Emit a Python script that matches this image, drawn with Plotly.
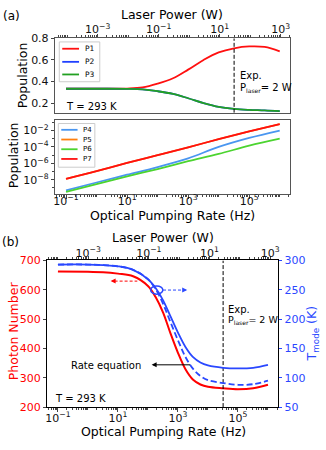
import plotly.graph_objects as go

W, H = 326, 450


def px(x):
    return x / W


def py(y):
    return 1 - y / H


# (a) upper panel: populations of the three lowest levels vs pumping rate
rate_a = [0.1, 1, 10, 32, 100, 320, 1000, 3200, 1e4, 3.2e4, 1e5, 3.2e5, 1e6]
p1 = [0.333, 0.333, 0.335, 0.345, 0.38, 0.43, 0.51, 0.60, 0.67, 0.708, 0.725, 0.72, 0.68]
p2 = [0.333, 0.333, 0.332, 0.327, 0.31, 0.285, 0.245, 0.20, 0.165, 0.146, 0.137, 0.132, 0.125]
p3 = [0.333, 0.333, 0.332, 0.327, 0.31, 0.285, 0.245, 0.20, 0.165, 0.146, 0.137, 0.132, 0.125]

# laser power scale shown on the top axes (W)
power_top = [1e-4, 1e3]
power_ticks = [1e-3, 1e-1, 1e1, 1e3]
power_labels = ['10<sup>−3</sup>', '10<sup>−1</sup>', '10<sup>1</sup>', '10<sup>3</sup>']
rate_ticks = [1e-1, 1e1, 1e3, 1e5]
rate_labels = ['10<sup>−1</sup>', '10<sup>1</sup>', '10<sup>3</sup>', '10<sup>5</sup>']
pop_ticks = [1e-8, 1e-6, 1e-4, 1e-2]
pop_labels = ['10<sup>−8</sup>', '10<sup>−6</sup>', '10<sup>−4</sup>', '10<sup>−2</sup>']

# (a) lower panel: higher levels (log-log)
rate_a2 = [0.1, 1, 10, 100, 1000, 1e4, 1e5, 1e6]
p4 = [5.0e-10, 4.5e-9, 4.0e-8, 3.5e-7, 4.0e-6, 1.0e-4, 1.26e-3, 1.0e-2]
p5 = [1.26e-8, 1.1e-7, 1.1e-6, 1.0e-5, 8.9e-5, 8.9e-4, 7.9e-3, 6.3e-2]
p6 = [3.2e-10, 2.8e-9, 2.5e-8, 2.0e-7, 1.8e-6, 1.4e-5, 1.4e-4, 1.0e-3]
p7 = [1.26e-8, 1.1e-7, 1.1e-6, 1.0e-5, 8.9e-5, 8.9e-4, 7.9e-3, 6.3e-2]

# (b) photon number and mode temperature
rate_b = [0.1, 1, 3.2, 10, 32, 100, 180, 320, 560, 1000, 1800, 3200, 5600,
          1e4, 3.2e4, 1e5, 3.2e5, 1e6]
photon = [662, 661, 660, 655, 646, 613, 575, 522, 452, 385, 328, 293, 277,
          269, 264, 261, 264, 276]
t_mode = [293, 293, 292, 290, 284, 268, 253, 232, 205, 177, 152, 135, 126,
          121, 117, 116, 117, 122]
t_rate = [293, 293, 292, 290, 284, 268, 251, 226, 195, 164, 135, 115, 103,
          96, 91, 88, 89, 95]

exp_rate = 3.2e4

RED = '#ff1010'
GREEN_A = '#22a022'
BLUE_A = '#2040ff'
BLUE_L = '#4a96f0'
ORANGE = '#ff7f0e'
GREEN_L = '#4cd430'
BLUE_B = '#2a48ff'
GRAY = '#555555'

fig = go.Figure()

# upper (a)
fig.add_trace(go.Scatter(x=rate_a, y=p1, mode='lines', line=dict(color=RED, width=1.8, shape='spline'),
                         xaxis='x', yaxis='y'))
fig.add_trace(go.Scatter(x=rate_a, y=p2, mode='lines', line=dict(color=BLUE_A, width=1.8, shape='spline'),
                         xaxis='x', yaxis='y'))
fig.add_trace(go.Scatter(x=rate_a, y=p3, mode='lines', line=dict(color=GREEN_A, width=1.8, shape='spline'),
                         xaxis='x', yaxis='y'))
fig.add_trace(go.Scatter(x=[exp_rate, exp_rate], y=[0.11, 0.8], mode='lines',
                         line=dict(color='black', width=1, dash='4px,2px'), xaxis='x', yaxis='y'))
# invisible trace so the top (laser power) axis gets drawn
fig.add_trace(go.Scatter(x=power_top, y=[0.5, 0.5], mode='lines', opacity=0, hoverinfo='skip',
                         xaxis='x2', yaxis='y'))

# lower (a)
for vals, col in [(p4, BLUE_L), (p5, ORANGE), (p6, GREEN_L), (p7, RED)]:
    fig.add_trace(go.Scatter(x=rate_a2, y=vals, mode='lines',
                             line=dict(color=col, width=1.8, shape='spline'),
                             xaxis='x3', yaxis='y3'))

# (b)
fig.add_trace(go.Scatter(x=rate_b, y=photon, mode='lines', line=dict(color='red', width=2, shape='spline'),
                         xaxis='x4', yaxis='y4'))
fig.add_trace(go.Scatter(x=rate_b, y=t_rate, mode='lines',
                         line=dict(color=BLUE_B, width=1.8, dash='6px,3px', shape='spline'),
                         xaxis='x4', yaxis='y5'))
fig.add_trace(go.Scatter(x=rate_b, y=t_mode, mode='lines', line=dict(color=BLUE_B, width=1.8, shape='spline'),
                         xaxis='x4', yaxis='y5'))
fig.add_trace(go.Scatter(x=[exp_rate, exp_rate], y=[200, 700], mode='lines',
                         line=dict(color='black', width=1, dash='4px,2px'), xaxis='x4', yaxis='y4'))
fig.add_trace(go.Scatter(x=power_top, y=[400, 400], mode='lines', opacity=0, hoverinfo='skip',
                         xaxis='x5', yaxis='y4'))

tickf = dict(family='DejaVu Sans', size=11, color='#111')
common = dict(showgrid=False, zeroline=False, ticks='outside', ticklen=3.5, tickwidth=1,
              tickfont=tickf)
minor_log = dict(ticks='outside', ticklen=2, dtick='D1', tickcolor='#444')

dom_a = [px(54), px(292)]
dom_b = [px(46), px(279.3)]

fig.update_layout(
    width=W, height=H, margin=dict(l=0, r=0, t=0, b=0),
    paper_bgcolor='white', plot_bgcolor='white', showlegend=False,
    font=dict(family='DejaVu Sans', size=11, color='black'),
    xaxis=dict(domain=dom_a, type='log', range=[-1.35, 6.35], anchor='y',
               showticklabels=False, ticks='', showline=True, mirror=True,
               linecolor=GRAY, showgrid=False, zeroline=False),
    xaxis2=dict(type='log', range=[-4.39, 3.32], overlaying='x', side='top', anchor='y',
                tickvals=power_ticks, ticktext=power_labels, ticklabelstandoff=-4,
                minor=minor_log, linecolor=GRAY, **common),
    yaxis=dict(domain=[py(110), py(33.3)], range=[0.11, 0.8], anchor='x',
               tickvals=[0.2, 0.4, 0.6, 0.8], ticktext=['0.2', '0.4', '0.6', '0.8'],
               showline=True, mirror=True, linecolor=GRAY, **common),
    xaxis3=dict(domain=dom_a, type='log', range=[-1.35, 6.35], anchor='y3',
                tickvals=rate_ticks, ticktext=rate_labels, ticklabelstandoff=-7,
                minor=minor_log, showline=True, mirror=True, linecolor=GRAY, **common),
    yaxis3=dict(domain=[py(194), py(117.3)], type='log', range=[-9.8, -0.7], anchor='x3',
                tickvals=pop_ticks, ticktext=pop_labels,
                minor=dict(ticks='outside', ticklen=2, dtick=1),
                showline=True, mirror=True, linecolor=GRAY, **common),
    xaxis4=dict(domain=dom_b, type='log', range=[-1.35, 6.33], anchor='y4',
                tickvals=rate_ticks, ticktext=rate_labels, ticklabelstandoff=-3,
                minor=minor_log, showline=True, mirror=True, linecolor='black', **common),
    xaxis5=dict(type='log', range=[-4.34, 3.25], overlaying='x4', side='top', anchor='y4',
                tickvals=power_ticks, ticktext=power_labels, ticklabelstandoff=-5,
                minor=minor_log, linecolor='black', **common),
    yaxis4=dict(domain=[py(413), py(262)], range=[200, 700], anchor='x4', dtick=100,
                showline=True, linecolor='black', showgrid=False, zeroline=False,
                ticks='outside', ticklen=3.5, tickfont=dict(family='DejaVu Sans', size=11, color='red')),
    yaxis5=dict(range=[50, 300], overlaying='y4', side='right', anchor='x4', dtick=50,
                showline=True, linecolor='black', showgrid=False, zeroline=False,
                ticks='outside', ticklen=3.5, tickcolor=BLUE_B,
                tickfont=dict(family='DejaVu Sans', size=11, color=BLUE_B)),
)

shapes = []
ann = []


def text(x, y, s, size=12.5, color='black', angle=0, xanchor='center'):
    ann.append(dict(x=px(x), y=py(y), xref='paper', yref='paper', text=s, showarrow=False,
                    textangle=angle, xanchor=xanchor, yanchor='middle',
                    font=dict(family='DejaVu Sans', size=size, color=color)))


# legends drawn by hand so they stay compact
def legend(x0, y0, x1, y1, items, lx0, lx1, tx, size):
    shapes.append(dict(type='rect', xref='paper', yref='paper', x0=px(x0), x1=px(x1),
                       y0=py(y1), y1=py(y0), fillcolor='white', line=dict(color='#cccccc', width=1)))
    for yy, lab, col in items:
        shapes.append(dict(type='line', xref='paper', yref='paper', x0=px(lx0), x1=px(lx1),
                           y0=py(yy), y1=py(yy), line=dict(color=col, width=1.8)))
        text(tx, yy, lab, size=size, xanchor='left')


legend(58, 37, 99, 78, [(44, 'P1', RED), (57.5, 'P2', BLUE_A), (70.5, 'P3', GREEN_A)], 61, 78, 82, 7.5)
legend(57, 121, 94, 166, [(127.5, 'P4', BLUE_L), (137.5, 'P5', ORANGE), (147.5, 'P6', GREEN_L),
                          (157.5, 'P7', RED)], 60, 76.5, 79.5, 7)

# panel labels and axis titles
text(10, 10, '(a)', size=12)
text(9, 243, '(b)', size=12)
text(172, 9, 'Laser Power (W)')
text(21, 71.7, 'Population', angle=-90)
text(12.5, 153.3, 'Population', angle=-90)
text(173, 216, 'Optical Pumping Rate (Hz)')
text(162.5, 238, 'Laser Power (W)')
text(163, 438, 'Optical Pumping Rate (Hz)')
text(11, 334, 'Photon Number', color='red', angle=-90)
text(314, 338, 'T<sub>mode</sub> (K)', color=BLUE_B, angle=-90)

# in-plot notes
sub = 'P<sub><span style="font-size:6px">laser</span></sub>= 2 W'
text(63, 104, 'T = 293 K', size=10, xanchor='left')
text(52, 404, 'T = 293 K', size=10, xanchor='left')
text(239, 71.7, 'Exp.', size=10, xanchor='left')
text(239, 84, sub, size=10, xanchor='left')
text(226.5, 312.3, 'Exp.', size=10, xanchor='left')
text(226.5, 323.3, sub, size=9.5, xanchor='left')
text(105, 370, 'Rate equation', size=10)

# arrows in (b)
ann.append(dict(x=px(151.5), y=py(369.5), xref='paper', yref='paper', ax=40, ay=0, text='',
                showarrow=True, arrowhead=2, arrowsize=1, arrowwidth=1, arrowcolor='black'))
shapes.append(dict(type='line', xref='paper', yref='paper', x0=px(114), x1=px(137),
                   y0=py(283.3), y1=py(283.3), line=dict(color='red', width=1, dash='3px,2px')))
ann.append(dict(x=px(110), y=py(283.3), xref='paper', yref='paper', ax=5, ay=0, text='',
                showarrow=True, arrowhead=2, arrowsize=1, arrowwidth=1, arrowcolor='red'))
shapes.append(dict(type='line', xref='paper', yref='paper', x0=px(163), x1=px(183.5),
                   y0=py(292.5), y1=py(292.5), line=dict(color=BLUE_B, width=1, dash='3px,2px')))
ann.append(dict(x=px(187.5), y=py(292.5), xref='paper', yref='paper', ax=-5, ay=0, text='',
                showarrow=True, arrowhead=2, arrowsize=1, arrowwidth=1, arrowcolor=BLUE_B))
shapes.append(dict(type='circle', xref='paper', yref='paper', x0=px(150.5), x1=px(162.8),
                   y0=py(296.7), y1=py(288.3), line=dict(color=BLUE_B, width=1.5)))

fig.update_layout(shapes=shapes, annotations=ann)
# page body has an 8px default margin; drop it so the 326x450 figure fills the window
fig.write_html("out.html", config={'displayModeBar': False},
               post_script="document.body.style.margin='0px';")
